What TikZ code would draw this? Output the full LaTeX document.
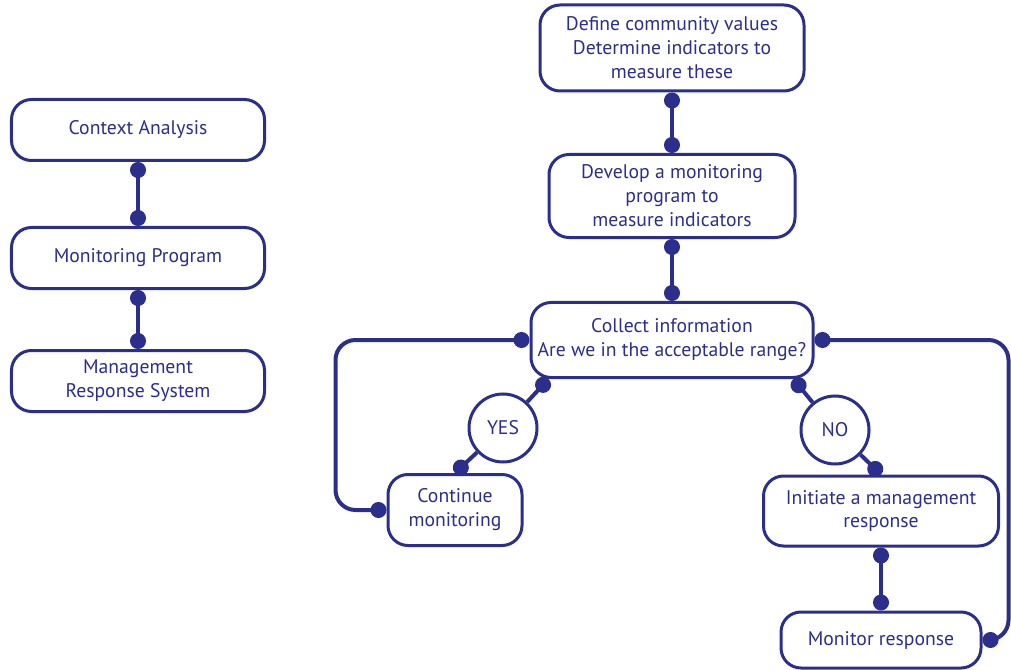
\documentclass[tikz,border=0pt]{standalone}
\usepackage{fontspec}
\setmainfont{PT Sans}
\usetikzlibrary{arrows.meta}
\definecolor{navy}{RGB}{44,46,140}

\begin{document}
\begin{tikzpicture}
  [x=0.25mm,y=-0.25mm,
   box/.style={draw=navy,line width=0.75mm,rounded corners=5mm,align=center,text=navy,inner sep=0pt,font=\fontsize{14}{17}\selectfont},
   ball/.style={circle,draw=navy,line width=0.75mm,fill=white,text=navy,minimum size=17mm,inner sep=0pt,font=\fontsize{14}{17}\selectfont},
   link/.style={navy,line width=1mm,{Circle[length=4mm]}-{Circle[length=4mm]}},
   halflink/.style={navy,line width=1mm,-{Circle[length=4mm]}}]
  \useasboundingbox (0,0) rectangle (1011,670);

  \node[box,minimum width=63.25mm,minimum height=15.25mm] (ctx) at (138,130) {Context Analysis};
  \node[box,minimum width=63.25mm,minimum height=15.25mm] (mon) at (138,258) {Monitoring Program};
  \node[box,minimum width=63.25mm,minimum height=15.25mm] (mrs) at (138,381) {Management\\Response System};

  \node[box,minimum width=66mm,minimum height=21.5mm] (def) at (672,48) {Define community values\\Determine indicators to\\measure these};
  \node[box,minimum width=61.5mm,minimum height=20.75mm] (dev) at (672,196) {Develop a monitoring\\program to\\measure indicators};
  \node[box,minimum width=70.5mm,minimum height=18.75mm] (col) at (672,340) {Collect information\\Are we in the acceptable range?};
  \node[ball] (yes) at (503,428) {YES};
  \node[box,minimum width=33.5mm,minimum height=17.75mm] (cont) at (455,510) {Continue\\monitoring};
  \node[ball] (no) at (835,430) {NO};
  \node[box,minimum width=58.75mm,minimum height=17.5mm] (init) at (881,511) {Initiate a management\\response};
  \node[box,minimum width=50mm,minimum height=14mm] (resp) at (881,640) {Monitor response};

  \foreach \from/\to in {ctx/mon, mon/mrs, def/dev, dev/col, init/resp}
    \draw [link] (\from) -- (\to);

  \draw [halflink] (yes) -- ([xshift=4.75mm]col.south west);
  \draw [halflink] (yes) -- (cont.north);
  \draw [halflink] (no) -- ([xshift=-5.25mm]col.south east);
  \draw [halflink] (no) -- (init.north);
  \draw [link,rounded corners=5mm] (col.west) -- ++(-194,0) |- (cont.west);
  \draw [link,rounded corners=5mm] (col.east) -- ++(194,0) |- (resp.east);

\end{tikzpicture}
\end{document}
